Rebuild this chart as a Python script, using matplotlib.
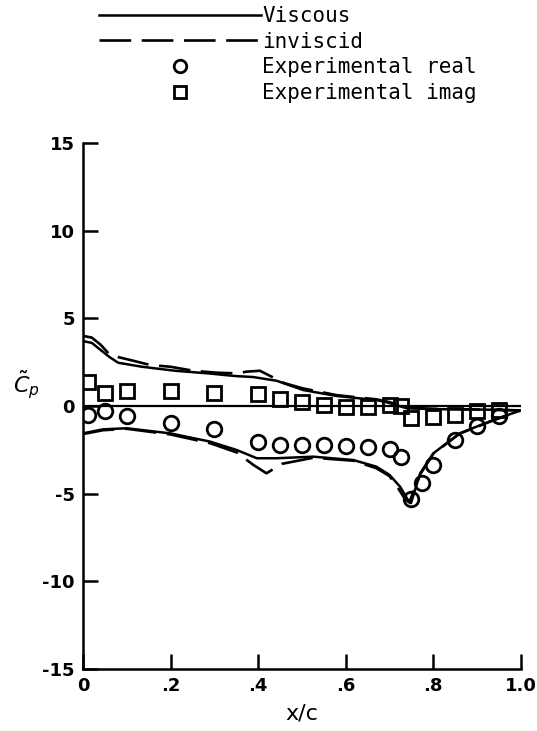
import matplotlib
matplotlib.use('Agg')
from matplotlib import pyplot as plt
from matplotlib.lines import Line2D

# viscous theory, upper and lower branches of the loop
vis_up_x = [0, 0.02, 0.04, 0.06, 0.08, 0.134, 0.21, 0.286, 0.347, 0.389, 0.442,
            0.503, 0.579, 0.67, 0.697, 0.739, 0.8, 0.9, 1.0]
vis_up_cp = [3.7, 3.6, 3.2, 2.8, 2.47, 2.24, 2.01, 1.86, 1.71, 1.65, 1.44,
             0.91, 0.57, 0.34, 0.19, -0.13, -0.18, -0.2, -0.25]
vis_lo_x = [0, 0.046, 0.1, 0.199, 0.29, 0.351, 0.397, 0.442, 0.526, 0.617, 0.67,
            0.70, 0.724, 0.743, 0.749, 0.77, 0.80, 0.86, 0.937, 1.0]
vis_lo_cp = [-1.56, -1.33, -1.27, -1.56, -2.03, -2.51, -2.98, -2.98, -2.89, -3.08,
             -3.46, -3.93, -4.6, -5.4, -5.54, -3.84, -2.7, -1.56, -0.8, -0.25]

# inviscid theory
inv_up_x = [0, 0.02, 0.04, 0.062, 0.115, 0.153, 0.199, 0.252, 0.305, 0.351, 0.374,
            0.404, 0.438, 0.46, 0.503, 0.579, 0.67, 0.70, 0.74, 0.8, 0.9, 1.0]
inv_up_cp = [4.0, 3.9, 3.5, 2.9, 2.58, 2.34, 2.24, 2.01, 1.9, 1.86, 1.96,
             2.01, 1.58, 1.3, 1.0, 0.62, 0.38, 0.22, -0.1, -0.16, -0.2, -0.25]
inv_lo_x = [0, 0.046, 0.1, 0.199, 0.29, 0.351, 0.389, 0.419, 0.454, 0.526, 0.617,
            0.67, 0.70, 0.72, 0.735, 0.745, 0.77, 0.80, 0.86, 0.937, 1.0]
inv_lo_cp = [-1.6, -1.38, -1.3, -1.62, -2.12, -2.65, -3.36, -3.84, -3.3, -2.95, -3.12,
             -3.55, -4.0, -4.7, -5.3, -5.5, -3.9, -2.72, -1.58, -0.82, -0.25]

# experiment
exp_x = [0.012, 0.05, 0.10, 0.20, 0.30, 0.40, 0.45, 0.50, 0.55, 0.60, 0.65,
         0.70, 0.727, 0.75, 0.775, 0.80, 0.85, 0.90, 0.95]
exp_real = [-0.51, -0.28, -0.57, -0.95, -1.33, -2.03, -2.22, -2.22, -2.22, -2.28, -2.36,
            -2.47, -2.9, -5.3, -4.42, -3.36, -1.94, -1.14, -0.57]
imag_x = [0.012, 0.05, 0.10, 0.20, 0.30, 0.40, 0.45, 0.50, 0.55, 0.60, 0.65,
          0.70, 0.727, 0.75, 0.80, 0.85, 0.90, 0.95]
exp_imag = [1.38, 0.72, 0.87, 0.87, 0.76, 0.68, 0.38, 0.25, 0.06, -0.04, -0.08,
            0.06, 0.0, -0.70, -0.61, -0.51, -0.27, -0.23]

x_ticks = [0, 0.2, 0.4, 0.6, 0.8, 1.0]
x_labels = ['0', '.2', '.4', '.6', '.8', '1.0']
y_ticks = [-15, -10, -5, 0, 5, 10, 15]
y_labels = ['-15', '-10', '-5', '0', '5', '10', '15']

dash = [12, 4]

fig = plt.figure(figsize=(5.37, 7.31), dpi=100)
ax = fig.add_axes([0.1546, 0.0848, 0.8154, 0.7196])

ax.plot([0, 1.0], [0, 0], color='black', lw=1.6)
ax.plot(vis_up_x, vis_up_cp, color='black', lw=1.8)
ax.plot(vis_lo_x, vis_lo_cp, color='black', lw=1.8)
ax.plot(inv_up_x, inv_up_cp, color='black', lw=1.9, dashes=dash)
ax.plot(inv_lo_x, inv_lo_cp, color='black', lw=1.9, dashes=dash)
ax.plot(exp_x, exp_real, 'o', ms=10.5, mfc='none', mec='black', mew=2)
ax.plot(imag_x, exp_imag, 's', ms=9.5, mfc='none', mec='black', mew=2)

ax.set_xlim(0, 1.0)
ax.set_ylim(-15, 15)
ax.spines['top'].set_visible(False)
ax.spines['right'].set_visible(False)
for s in ('left', 'bottom'):
    ax.spines[s].set_linewidth(1.8)
ax.set_xticks(x_ticks)
ax.set_xticklabels(x_labels)
ax.set_yticks(y_ticks)
ax.set_yticklabels(y_labels)
ax.tick_params(direction='in', length=11, width=1.8, labelsize=13, pad=6)
for lab in ax.get_xticklabels() + ax.get_yticklabels():
    lab.set_fontweight('bold')

ax.set_xlabel('x/c', fontsize=16, labelpad=6)
ax.set_ylabel(r'$\tilde{C}_p$', fontsize=16, rotation=0)
ax.yaxis.set_label_coords(-0.13, 0.51)

handles = [
    Line2D([], [], color='black', lw=1.8),
    Line2D([], [], color='black', lw=1.9, dashes=dash),
    Line2D([], [], ls='none', marker='o', ms=9, mfc='none', mec='black', mew=2),
    Line2D([], [], ls='none', marker='s', ms=8, mfc='none', mec='black', mew=2),
]
labels = ['Viscous', 'inviscid', 'Experimental real', 'Experimental imag']
fig.legend(handles, labels, loc='upper left', bbox_to_anchor=(0.168, 1.003),
           frameon=False, prop={'family': 'DejaVu Sans Mono', 'size': 15},
           handlelength=7.8, handletextpad=0.05,
           labelspacing=0.27, borderaxespad=0.0)

plt.savefig('out.png', dpi=100)
